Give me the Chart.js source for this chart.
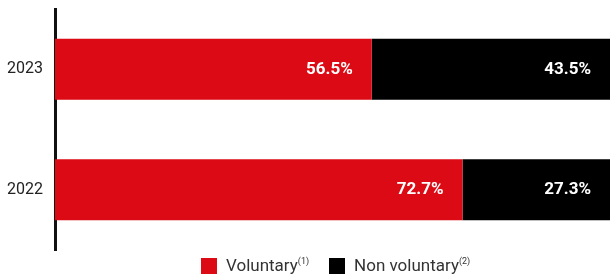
<!DOCTYPE html>
<html>
<head>
<meta charset="utf-8">
<script src="https://cdn.jsdelivr.net/npm/chart.js@4/dist/chart.umd.min.js"></script>
<style>
  html, body { margin: 0; padding: 0; background: #fff; }
  #wrap { position: relative; width: 610px; height: 276px; }
  #legend { position: absolute; left: 201px; top: 257px; display: flex; align-items: center;
            font-family: Roboto, sans-serif; font-size: 17px; color: #333; line-height: 17px; }
  .item { display: flex; align-items: center; margin-right: 20px; }
  .box { width: 16px; height: 16px; margin-right: 9px; }
  sup { font-size: 9px; vertical-align: 7px; line-height: 0; }
</style>
</head>
<body>
<div id="wrap">
  <canvas id="c" width="610" height="276"></canvas>
  <div id="legend"></div>
</div>
<script>
const categories = ["2023", "2022"];
const seriesNames = ["Voluntary", "Non voluntary"];
const seriesNotes = ["(1)", "(2)"];
const voluntary = [56.5, 72.7];
const nonVoluntary = [43.5, 27.3];
const colors = ["#dc0a14", "#000000"];

const labelPlugin = {
  id: "barLabels",
  afterDatasetsDraw(chart) {
    const ctx = chart.ctx;
    ctx.save();
    ctx.fillStyle = "#ffffff";
    ctx.font = "bold 17px Roboto, sans-serif";
    ctx.textAlign = "right";
    ctx.textBaseline = "middle";
    chart.data.datasets.forEach((ds, di) => {
      const meta = chart.getDatasetMeta(di);
      meta.data.forEach((bar, i) => {
        const right = Math.min(bar.x, chart.chartArea.right);
        ctx.fillText(ds.data[i].toFixed(1) + "%", right - 19, bar.y);
      });
    });
    ctx.restore();
  }
};

const chart = new Chart(document.getElementById("c"), {
  type: "bar",
  data: {
    labels: categories,
    datasets: [
      { label: seriesNames[0], data: voluntary, backgroundColor: colors[0] },
      { label: seriesNames[1], data: nonVoluntary, backgroundColor: colors[1] }
    ]
  },
  options: {
    indexAxis: "y",
    responsive: false,
    animation: false,
    layout: { padding: { top: 9, bottom: 26, left: 0, right: 0 } },
    datasets: { bar: { barPercentage: 0.506, categoryPercentage: 1.0 } },
    plugins: { legend: { display: false }, tooltip: { enabled: false } },
    scales: {
      x: { stacked: true, display: false, min: 0, max: 99 },
      y: {
        stacked: true,
        grid: { display: false, drawTicks: false },
        border: { display: true, color: "#111", width: 3 },
        ticks: { color: "#222", font: { family: "Roboto", size: 16 }, padding: 12 },
        afterFit(scale) { scale.width = 55; scale.paddingTop = 0; scale.paddingBottom = 0; }
      }
    }
  },
  plugins: [labelPlugin]
});

const legend = document.getElementById("legend");
seriesNames.forEach((name, i) => {
  const item = document.createElement("div");
  item.className = "item";
  const box = document.createElement("span");
  box.className = "box";
  box.style.background = colors[i];
  const txt = document.createElement("span");
  txt.textContent = name;
  const sup = document.createElement("sup");
  sup.textContent = seriesNotes[i];
  txt.appendChild(sup);
  item.appendChild(box);
  item.appendChild(txt);
  legend.appendChild(item);
});
</script>
</body>
</html>
